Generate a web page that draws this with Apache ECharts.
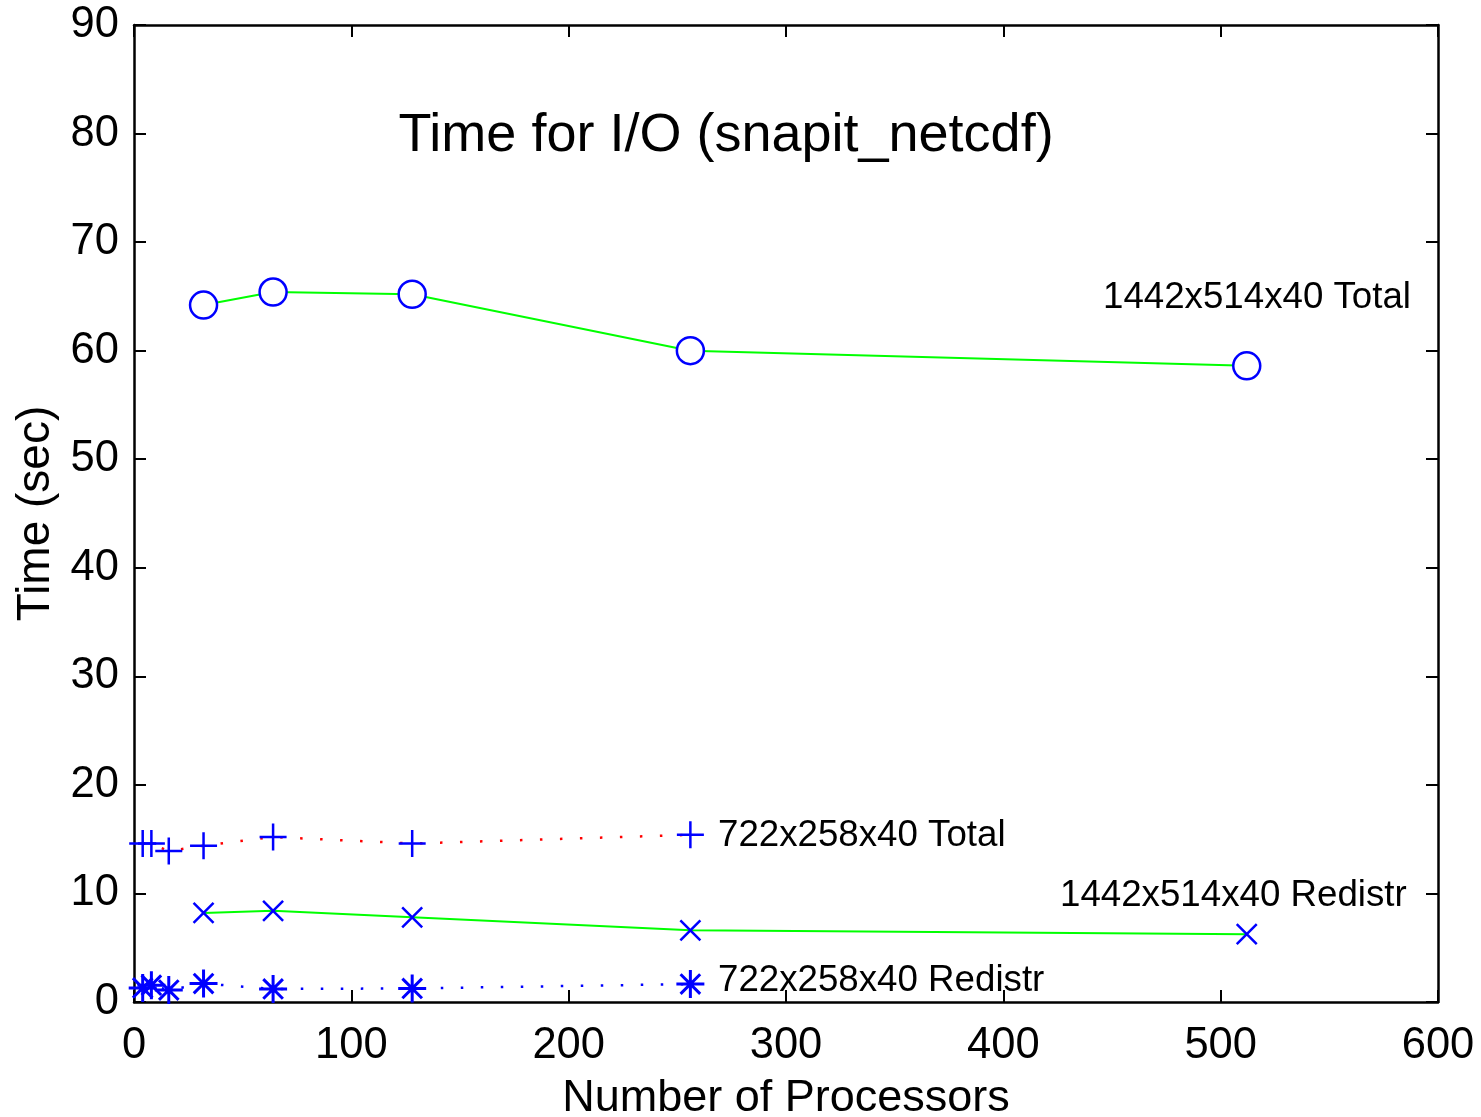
<!DOCTYPE html>
<html>
<head>
<meta charset="UTF-8">
<title>Time for I/O</title>
<script src="https://cdn.jsdelivr.net/npm/echarts@6/dist/echarts.min.js"></script>
<style>
  html, body { margin: 0; padding: 0; background: #fff; }
  #main { width: 1481px; height: 1117px; }
</style>
</head>
<body>
<div id="main"></div>
<script type="text/javascript">
// data
var procs1442 = [32, 64, 128, 256, 512];
var total1442 = [64.2, 65.4, 65.2, 60.0, 58.6];
var redistr1442 = [8.2, 8.4, 7.8, 6.6, 6.25];
var procs722 = [4, 8, 16, 32, 64, 128, 256];
var total722 = [14.6, 14.6, 13.9, 14.4, 15.2, 14.6, 15.4];
var redistr722 = [1.3, 1.55, 1.1, 1.7, 1.2, 1.25, 1.65];

var FONT = '"Liberation Sans", Arial, Helvetica, sans-serif';
var BLUE = '#0000ff';

var plusSym = 'path://M0,-1L0,1M-1,0L1,0';
var crossSym = 'path://M-1,-1L1,1M-1,1L1,-1';
var starSym = 'path://M0,-1L0,1M-1,0L1,0M-0.7,-0.7L0.7,0.7M-0.7,0.7L0.7,-0.7';

function pairs(xs, ys) {
  return xs.map(function (x, i) { return [x, ys[i]]; });
}

function axisCommon(showLabels, margin) {
  return {
    axisLine: { show: true, onZero: false, lineStyle: { color: '#000', width: 2.5 } },
    axisTick: { show: true, inside: true, length: 12, lineStyle: { color: '#000', width: 2 } },
    axisLabel: { show: showLabels, color: '#000', fontSize: 43.5, fontFamily: FONT, margin: margin || 12 },
    splitLine: { show: false }
  };
}

var xBottom = Object.assign(axisCommon(true, 22), {
  type: 'value', position: 'bottom', min: 0, max: 600, interval: 100,
  name: 'Number of Processors', nameLocation: 'middle', nameGap: 74,
  nameTextStyle: { color: '#000', fontSize: 45, fontFamily: FONT }
});
var xTop = Object.assign(axisCommon(false), {
  type: 'value', position: 'top', min: 0, max: 600, interval: 100
});
var yLeft = Object.assign(axisCommon(true, 15), {
  type: 'value', position: 'left', min: 0, max: 90, interval: 10,
  name: 'Time (sec)', nameLocation: 'middle', nameGap: 72, nameRotate: 90,
  nameTextStyle: { color: '#000', fontSize: 46, fontFamily: FONT }
});
var yRight = Object.assign(axisCommon(false), {
  type: 'value', position: 'right', min: 0, max: 90, interval: 10
});

function markerStyle() {
  return { color: 'none', borderColor: BLUE, borderWidth: 2.5 };
}

var myChart = echarts.init(document.getElementById('main'), null, { renderer: 'canvas' });
myChart.setOption({
  backgroundColor: '#fff',
  animation: false,
  grid: { left: 134, right: 43, top: 25, bottom: 115, containLabel: false, outerBoundsMode: 'none' },
  xAxis: [xBottom, xTop],
  yAxis: [yLeft, yRight],
  series: [
    {
      name: '1442x514x40 Total', type: 'line', data: pairs(procs1442, total1442),
      symbol: 'circle', symbolSize: 27, showAllSymbol: true,
      lineStyle: { color: '#00ff00', width: 2 },
      itemStyle: { color: '#fff', borderColor: BLUE, borderWidth: 2.5 }
    },
    {
      name: '722x258x40 Total', type: 'line', data: pairs(procs722, total722),
      symbol: plusSym, symbolSize: 27, showAllSymbol: true,
      lineStyle: { color: '#ff0000', width: 2.5, type: [2.5, 17.5] },
      itemStyle: markerStyle()
    },
    {
      name: '1442x514x40 Redistr', type: 'line', data: pairs(procs1442, redistr1442),
      symbol: crossSym, symbolSize: 20, showAllSymbol: true,
      lineStyle: { color: '#00ff00', width: 2 },
      itemStyle: markerStyle()
    },
    {
      name: '722x258x40 Redistr', type: 'line', data: pairs(procs722, redistr722),
      symbol: starSym, symbolSize: 28, showAllSymbol: true,
      lineStyle: { color: BLUE, width: 2.5, type: [2.5, 17.5] },
      itemStyle: { color: 'none', borderColor: BLUE, borderWidth: 3 }
    }
  ],
  graphic: [
    { type: 'text', x: 726, y: 136, style: { text: 'Time for I/O (snapit_netcdf)', fill: '#000', font: '54px ' + FONT, textAlign: 'center', textVerticalAlign: 'middle' } },
    { type: 'text', x: 1103, y: 298, style: { text: '1442x514x40 Total', fill: '#000', font: '36.7px ' + FONT, textAlign: 'left', textVerticalAlign: 'middle' } },
    { type: 'text', x: 718, y: 836, style: { text: '722x258x40 Total', fill: '#000', font: '36.7px ' + FONT, textAlign: 'left', textVerticalAlign: 'middle' } },
    { type: 'text', x: 1060, y: 896, style: { text: '1442x514x40 Redistr', fill: '#000', font: '36.7px ' + FONT, textAlign: 'left', textVerticalAlign: 'middle' } },
    { type: 'text', x: 718, y: 981, style: { text: '722x258x40 Redistr', fill: '#000', font: '36.7px ' + FONT, textAlign: 'left', textVerticalAlign: 'middle' } }
  ]
});
</script>
</body>
</html>
